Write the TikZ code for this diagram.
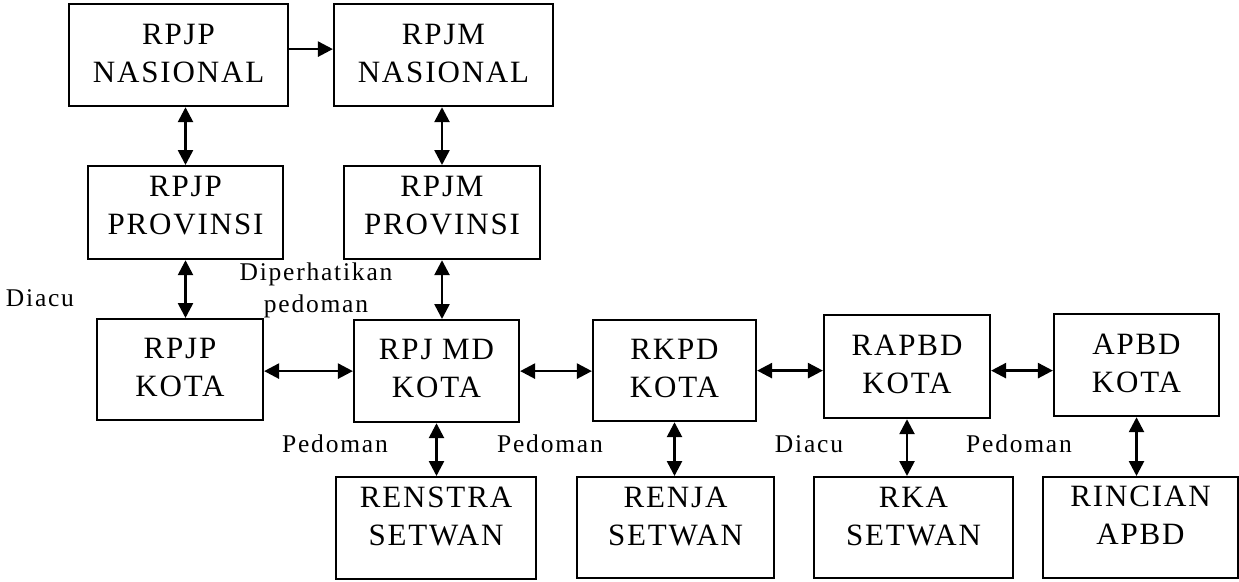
\documentclass[tikz,border=0pt]{standalone}
\usepackage{fontspec}
\setmainfont{Liberation Serif}
\newfontfamily\bxfont[LetterSpace=6]{Liberation Serif}
\newfontfamily\lbfont[LetterSpace=7]{Liberation Serif}
\usetikzlibrary{arrows.meta}
\newcommand\twol[2]{\begin{tabular}[t]{@{}c@{}}#1\\#2\end{tabular}}
\tikzset{
  box/.style={draw, line width=2.2pt, inner sep=0pt, anchor=north,
    font=\bxfont\fontsize{31}{38}\selectfont},
  darr/.style={line width=2.6pt, {Triangle[length=15pt,width=15pt]}-{Triangle[length=15pt,width=15pt]}},
  sarr/.style={line width=2.6pt, -{Triangle[length=15pt,width=15pt]}},
  lbl/.style={font=\lbfont\fontsize{25.5}{30}\selectfont, anchor=base, inner sep=0pt, align=center}
}
\begin{document}
\begin{tikzpicture}[x=1pt,y=-1pt]
\useasboundingbox (0,0) rectangle (1239,581);
% top row
\node[box, minimum width=219pt, minimum height=102pt, text height=40pt, text depth=62pt] (nasP) at (178.5,3) {\twol{RPJP}{NASIONAL}};
\node[box, minimum width=219pt, minimum height=102pt, text height=40pt, text depth=62pt] (nasM) at (443.5,3) {\twol{RPJM}{NASIONAL}};
% province row
\node[box, minimum width=195pt, minimum height=93pt, text height=30pt, text depth=63pt] (provP) at (185.5,165) {\twol{RPJP}{PROVINSI}};
\node[box, minimum width=196pt, minimum height=93pt, text height=30pt, text depth=63pt] (provM) at (442,165) {\twol{RPJM}{PROVINSI}};
% city row
\node[box, minimum width=166pt, minimum height=101pt, text height=39pt, text depth=62pt] (kotaP) at (180,318) {\twol{RPJP}{KOTA}};
\node[box, minimum width=165pt, minimum height=102pt, text height=39pt, text depth=63pt] (rpjmd) at (436.5,319) {\twol{RPJ MD}{KOTA}};
\node[box, minimum width=163pt, minimum height=101pt, text height=39pt, text depth=62pt] (rkpd) at (674.5,319) {\twol{RKPD}{KOTA}};
\node[box, minimum width=166pt, minimum height=103pt, text height=40pt, text depth=63pt] (rapbd) at (907,314) {\twol{RAPBD}{KOTA}};
\node[box, minimum width=165pt, minimum height=102pt, text height=40pt, text depth=62pt] (apbd) at (1136.5,313) {\twol{APBD}{KOTA}};
% bottom row
\node[box, minimum width=200pt, minimum height=102pt, text height=30pt, text depth=72pt] (renstra) at (436,476) {\twol{RENSTRA}{SETWAN}};
\node[box, minimum width=197pt, minimum height=101pt, text height=30pt, text depth=71pt] (renja) at (675.5,476) {\twol{RENJA}{SETWAN}};
\node[box, minimum width=199pt, minimum height=101pt, text height=30pt, text depth=71pt] (rka) at (913.5,476) {\twol{RKA}{SETWAN}};
\node[box, minimum width=195pt, minimum height=101pt, text height=29pt, text depth=72pt] (rincian) at (1140.5,476) {\twol{RINCIAN}{APBD}};
% arrows
\draw[sarr] ([yshift=6pt]nasP.east) -- ([yshift=6pt]nasP.east -| nasM.west);
\draw[darr] (provP.north) -- (provP.north |- nasP.south);
\draw[darr] (provM.north) -- (provM.north |- nasM.south);
\draw[darr] (provP.south) -- (provP.south |- kotaP.north);
\draw[darr] (provM.south) -- (provM.south |- rpjmd.north);
\draw[darr] (rpjmd.west) -- (rpjmd.west -| kotaP.east);
\draw[darr] (rpjmd.east) -- (rpjmd.east -| rkpd.west);
\draw[darr] (rkpd.east) -- (rkpd.east -| rapbd.west);
\draw[darr] (rapbd.east |- rkpd.east) -- (apbd.west |- rkpd.east);
\draw[darr] (rpjmd.south) -- (rpjmd.south |- renstra.north);
\draw[darr] (rkpd.south) -- (rkpd.south |- renja.north);
\draw[darr] (rapbd.south) -- (rapbd.south |- rka.north);
\draw[darr] (apbd.south) -- (apbd.south |- rincian.north);
% labels
\node[lbl] (l1) at (40,306) {Diacu};
\node[lbl] (l2) at (316,280) {Diperhatikan};
\node[lbl] (l3) at (316,312) {pedoman};
\node[lbl] (l4) at (335,452) {Pedoman};
\node[lbl] (l5) at (550,452) {Pedoman};
\node[lbl] (l6) at (809,452) {Diacu};
\node[lbl] (l7) at (1019,452) {Pedoman};
\end{tikzpicture}
\end{document}
